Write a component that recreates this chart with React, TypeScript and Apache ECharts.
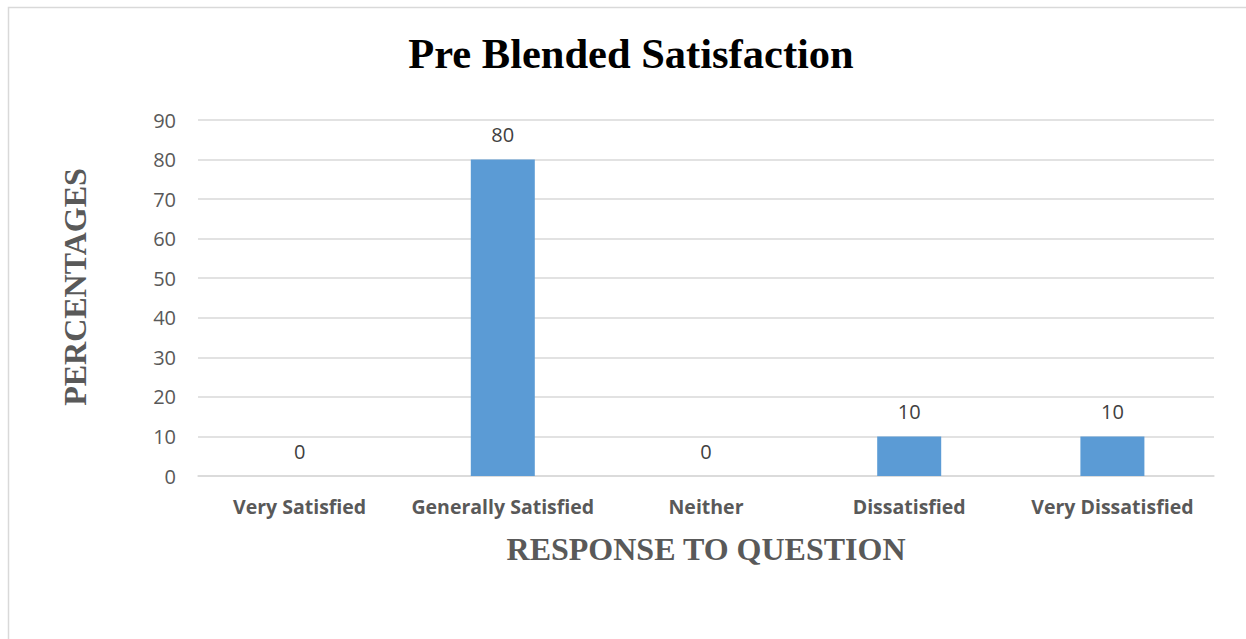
import React, { useEffect, useRef } from "react";
import * as echarts from "echarts";

const categories = ["Very Satisfied", "Generally Satisfied", "Neither", "Dissatisfied", "Very Dissatisfied"];
const values = [0, 80, 0, 10, 10];
const titleText = "Pre Blended Satisfaction";
const yTitle = "PERCENTAGES";
const xTitle = "RESPONSE TO QUESTION";

export default function App() {
  const ref = useRef<HTMLDivElement>(null);
  useEffect(() => {
    if (!ref.current) return;
    const chart = echarts.init(ref.current, null, { renderer: "svg" });
    chart.setOption({
      animation: false,
      backgroundColor: "#ffffff",
      grid: { left: 198, right: 32, top: 120, bottom: 163, containLabel: false },
      xAxis: {
        type: "category",
        data: categories,
        axisLine: { show: true, lineStyle: { color: "#d9d9d9", width: 1.5 } },
        axisTick: { show: false },
        axisLabel: {
          color: "#595959",
          fontFamily: "Open Sans",
          fontWeight: "bold",
          fontSize: 19.5,
          margin: 20,
          interval: 0,
        },
      },
      yAxis: {
        type: "value",
        min: 0,
        max: 90,
        interval: 10,
        axisLine: { show: false },
        axisTick: { show: false },
        splitLine: { lineStyle: { color: "#d9d9d9", width: 1.5 } },
        axisLabel: { color: "#595959", fontFamily: "Open Sans", fontSize: 20, margin: 22 },
      },
      series: [
        {
          type: "bar",
          data: values,
          barWidth: 64,
          itemStyle: { color: "#5B9BD5" },
          label: {
            show: true,
            position: "top",
            distance: 15,
            color: "#404040",
            fontFamily: "Open Sans",
            fontSize: 20,
          },
        },
      ],
      graphic: [
        {
          type: "rect",
          shape: { x: 8.5, y: 7.5, width: 1300, height: 700 },
          style: { fill: "none", stroke: "#d9d9d9", lineWidth: 1.5 },
          silent: true,
          z: -10,
        },
        {
          type: "text",
          x: 631,
          y: 53,
          style: {
            text: titleText,
            fill: "#000000",
            font: "bold 42.5px 'Liberation Serif'",
            align: "center",
            verticalAlign: "middle",
          },
        },
        {
          type: "text",
          x: 75,
          y: 287,
          rotation: Math.PI / 2,
          style: {
            text: yTitle,
            fill: "#595959",
            font: "bold 32px 'Liberation Serif'",
            align: "center",
            verticalAlign: "middle",
          },
        },
        {
          type: "text",
          x: 706,
          y: 549,
          style: {
            text: xTitle,
            fill: "#595959",
            font: "bold 32px 'Liberation Serif'",
            align: "center",
            verticalAlign: "middle",
          },
        },
      ],
    });
    return () => chart.dispose();
  }, []);
  return (
    <div
      ref={ref}
      style={{ position: "fixed", left: 0, top: 0, width: 1246, height: 639 }}
    />
  );
}
